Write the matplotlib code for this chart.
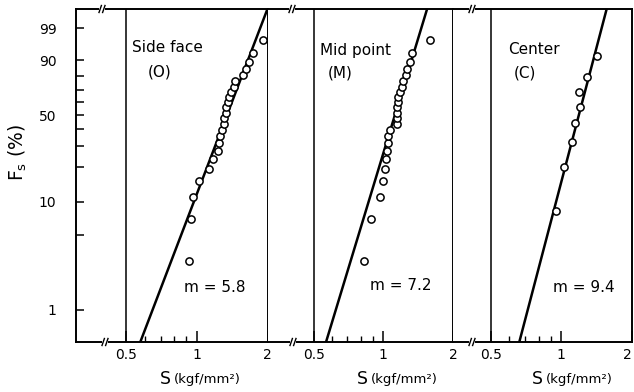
import numpy as np
import matplotlib
matplotlib.use("Agg")
import matplotlib.pyplot as plt
import matplotlib.transforms as mtransforms
from matplotlib.lines import Line2D
from matplotlib.ticker import FixedLocator, NullFormatter, FixedFormatter

plt.rcParams['font.family'] = ['DejaVu Sans']
plt.rcParams['mathtext.default'] = 'regular'

# ---------------- data ----------------
panel_names = ["Side face", "Mid point", "Center"]
panel_codes = ["(O)", "(M)", "(C)"]
m_labels = ["m = 5.8", "m = 7.2", "m = 9.4"]

# strength S (kgf/mm^2) and cumulative failure probability F (%)
side_S = [0.930, 0.943, 0.961, 1.016, 1.121, 1.166, 1.225, 1.246, 1.258, 1.279,
          1.300, 1.309, 1.325, 1.334, 1.352, 1.374, 1.398, 1.434, 1.458, 1.567,
          1.620, 1.674, 1.729, 1.916]
side_F = [2.9, 7.0, 11.1, 15.2, 19.3, 23.4, 27.5, 31.6, 35.7, 39.8,
          43.9, 48.0, 52.0, 56.1, 60.2, 64.3, 68.4, 72.5, 76.6, 80.7,
          84.8, 88.9, 93.0, 97.1]

mid_S = [0.825, 0.882, 0.968, 0.994, 1.017, 1.024, 1.040, 1.045, 1.051, 1.069,
         1.142, 1.142, 1.142, 1.149, 1.161, 1.161, 1.181, 1.201, 1.220, 1.253,
         1.270, 1.305, 1.327, 1.592]
mid_F = [2.9, 7.0, 11.1, 15.2, 19.3, 23.4, 27.5, 31.6, 35.7, 39.8,
         43.9, 48.0, 52.0, 56.1, 60.2, 64.3, 68.4, 72.5, 76.6, 80.7,
         84.8, 88.9, 93.0, 97.1]

center_S = [0.945, 1.027, 1.113, 1.142, 1.200, 1.193, 1.292, 1.428]
center_F = [8.3, 20.2, 32.1, 44.0, 56.0, 67.9, 79.8, 91.7]

# fitted Weibull lines: shape (slope as drawn) and scale S0
line_m = [5.8, 7.2, 8.4]
line_S0 = [1.43, 1.18, 1.242]

series_S = [side_S, mid_S, center_S]
series_F = [side_F, mid_F, center_F]

y_major = [1, 10, 50, 90, 99]
y_minor = [5, 20, 30, 40, 60, 70, 80]
x_major = [0.5, 1, 2]
x_major_labels = ["0.5", "1", "2"]
x_minor = [0.6, 0.7, 0.8, 0.9]

# ---------------- scale ----------------
def fwd(F):
    F = np.clip(np.asarray(F, dtype=float), 1e-9, 100 - 1e-9)
    return np.log(-np.log(1 - F / 100.0))

def inv(W):
    W = np.asarray(W, dtype=float)
    return 100.0 * (1 - np.exp(-np.exp(W)))

W = 634.0
H = 392.0
fig = plt.figure(figsize=(W / 100, H / 100), dpi=100)

def fx(p):
    return p / W

def fy(p):
    return 1 - p / H

bottom_px, top_px = 342, 9
panel_px = [(76, 267.5), (267.5, 453), (453, 631.5)]
xlims = [(0.3052, 2.0), (0.3158, 2.0), (0.3437, 2.0)]
ylim = (0.4995, 99.907)

axes = []
for i in range(3):
    l, r = panel_px[i]
    ax = fig.add_axes([fx(l), fy(bottom_px), (r - l) / W, (bottom_px - top_px) / H])
    ax.set_xscale('log')
    ax.set_yscale('function', functions=(fwd, inv))
    ax.set_xlim(*xlims[i])
    ax.set_ylim(*ylim)
    for s in ax.spines.values():
        s.set_linewidth(1.4)
        s.set_color('black')
    if i > 0:
        ax.spines['left'].set_visible(False)
    ax.xaxis.set_major_locator(FixedLocator(x_major))
    ax.xaxis.set_major_formatter(FixedFormatter(x_major_labels))
    ax.xaxis.set_minor_locator(FixedLocator(x_minor))
    ax.xaxis.set_minor_formatter(NullFormatter())
    ax.tick_params(axis='x', which='major', direction='in', length=8, width=1.1,
                   labelsize=10, pad=4, top=False)
    ax.tick_params(axis='x', which='minor', direction='in', length=4.5, width=1.0, top=False)
    if i == 0:
        ax.yaxis.set_major_locator(FixedLocator(y_major))
        ax.yaxis.set_major_formatter(FixedFormatter([str(v) for v in y_major]))
        ax.yaxis.set_minor_locator(FixedLocator(y_minor))
        ax.yaxis.set_minor_formatter(NullFormatter())
        ax.tick_params(axis='y', which='both', direction='in', length=5.5, width=1.1,
                       labelsize=10, pad=14, right=False)
    else:
        ax.yaxis.set_major_locator(FixedLocator([]))
        ax.yaxis.set_minor_locator(FixedLocator([]))
        ax.tick_params(axis='y', which='both', left=False, right=False, labelleft=False)

    ax.axvline(0.5, color='black', lw=1.1)

    Sgrid = np.geomspace(0.3, 2.2, 400)
    Fline = 100 * (1 - np.exp(-(Sgrid / line_S0[i]) ** line_m[i]))
    ax.plot(Sgrid, Fline, color='black', lw=1.8)

    ax.plot(series_S[i], series_F[i], linestyle='none', marker='o', markersize=5.2,
            markerfacecolor='white', markeredgecolor='black', markeredgewidth=1.1)
    axes.append(ax)

# keep the last "2" inside the picture
fig.canvas.draw()
lab = axes[2].get_xticklabels()[-1]
lab.set_transform(lab.get_transform() +
                  mtransforms.ScaledTranslation(-4 / 100, 0, fig.dpi_scale_trans))

# panel texts (positions in pixels)
name_pos = [(132, 48), (320, 50), (508, 50)]
code_pos = [(148, 72), (328, 73), (514, 73)]
m_pos = [(184, 287), (370, 286), (553, 287)]
for i in range(3):
    fig.text(fx(name_pos[i][0]), fy(name_pos[i][1]), panel_names[i], fontsize=11,
             ha='left', va='center')
    fig.text(fx(code_pos[i][0]), fy(code_pos[i][1]), panel_codes[i], fontsize=11,
             ha='left', va='center')
    fig.text(fx(m_pos[i][0]), fy(m_pos[i][1]), m_labels[i], fontsize=11,
             ha='left', va='center')

# x axis labels
S_pos = [(160, 379), (357, 379), (532, 379)]
for (x, y) in S_pos:
    fig.text(fx(x), fy(y), "S", fontsize=12.5, ha='left', va='center')
    fig.text(fx(x + 14), fy(y), "(kgf/mm²)", fontsize=9.5, ha='left', va='center')

# y label
fig.text(fx(18), fy(152), "F$_s$ (%)", fontsize=13.5, rotation=90, ha='center', va='center')

# break marks on top and bottom axis lines
for (x, y) in [(102, 9), (292, 9), (472, 9), (105, 342), (293, 342), (472, 342)]:
    fig.patches.append(plt.Rectangle((fx(x - 3), fy(y + 1.2)), 6 / W, 2.4 / H,
                                     transform=fig.transFigure, facecolor='white',
                                     edgecolor='none', zorder=5))
    for dx in (-1.8, 1.8):
        fig.lines.append(Line2D([fx(x + dx - 1.2), fx(x + dx + 1.2)],
                                [fy(y + 3.5), fy(y - 3.5)],
                                transform=fig.transFigure, color='black', lw=1.0, zorder=6))

fig.savefig("out.png", dpi=100)
